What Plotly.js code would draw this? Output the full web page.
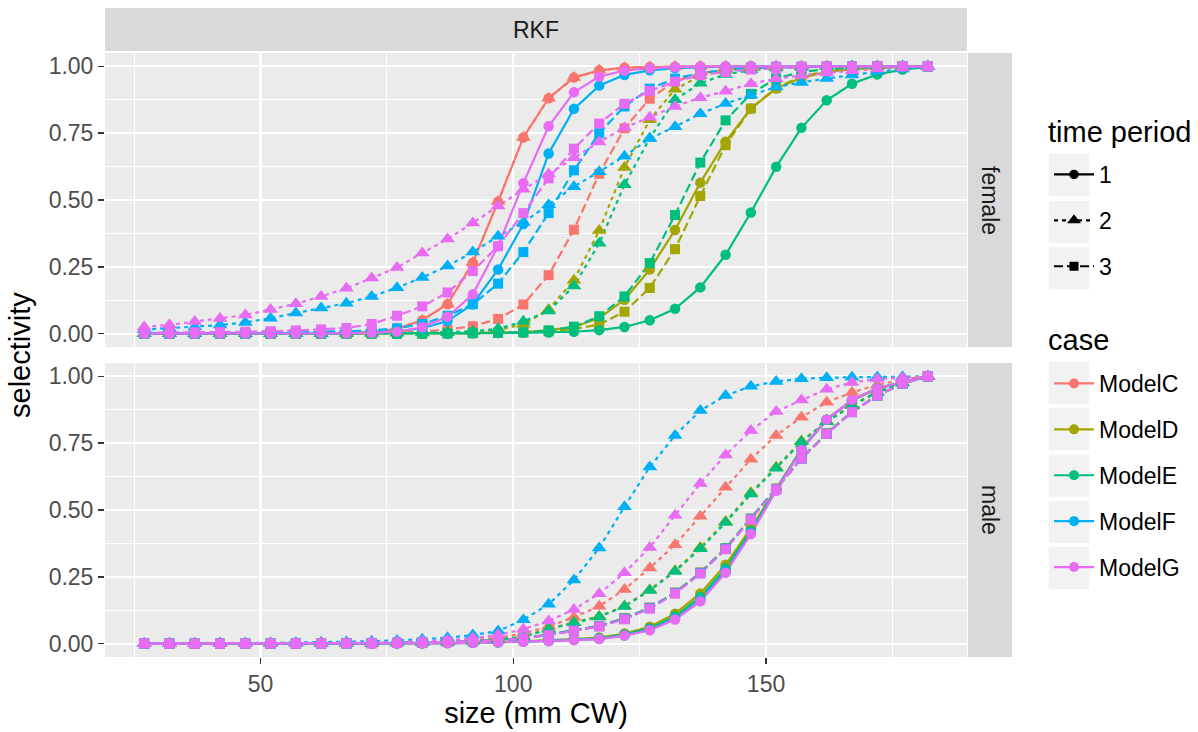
<!DOCTYPE html>
<html>
<head>
<meta charset="utf-8">
<script src="https://cdn.plot.ly/plotly-3.0.1.min.js"></script>
<style>html,body{margin:0;padding:0;background:#fff;}#chart{width:1198px;height:732px;}</style>
</head>
<body>
<div id="chart"></div>
<script>
// ---- data ----
const sizes = [27,32,37,42,47,52,57,62,67,72,77,82,87,92,97,102,107,112,117,122,127,132,137,142,147,152,157,162,167,172,177,182];
const cases = ["ModelC","ModelD","ModelE","ModelF","ModelG"];
const periods = ["1","2","3"];
const sexes = ["female","male"];
const facetLabel = "RKF";

// female
const female_C1 = [0,0,0,0,0,0,0,0.001,0.002,0.006,0.018,0.05,0.11,0.265,0.494,0.734,0.881,0.958,0.985,0.995,0.998,0.999,1,1,1,1,1,1,1,1,1,1];
const female_C2 = [0,0,0,0,0,0,0,0.001,0.002,0.006,0.018,0.05,0.11,0.265,0.494,0.734,0.881,0.958,0.985,0.995,0.998,0.999,1,1,1,1,1,1,1,1,1,1];
const female_C3 = [0,0,0,0,0,0,0,0.001,0.001,0.002,0.004,0.008,0.015,0.028,0.055,0.109,0.219,0.389,0.598,0.768,0.879,0.944,0.974,0.988,0.995,0.998,0.999,1,1,1,1,1];
const female_D1 = [0,0,0,0,0,0,0,0,0,0,0,0.001,0.001,0.002,0.004,0.006,0.012,0.025,0.058,0.127,0.24,0.388,0.565,0.718,0.842,0.917,0.957,0.979,0.99,0.995,0.998,1];
const female_D2 = [0,0,0,0,0,0,0,0,0,0.001,0.001,0.002,0.004,0.007,0.014,0.035,0.09,0.2,0.386,0.622,0.8,0.914,0.965,0.985,0.994,0.997,0.999,1,1,1,1,1];
const female_D3 = [0,0,0,0,0,0,0,0,0,0,0,0,0.001,0.002,0.003,0.005,0.009,0.017,0.034,0.082,0.171,0.316,0.515,0.705,0.842,0.92,0.962,0.982,0.992,0.997,0.999,1];
const female_E1 = [0,0,0,0,0,0,0,0,0,0,0,0,0,0.001,0.002,0.003,0.004,0.007,0.013,0.025,0.05,0.093,0.173,0.295,0.453,0.624,0.77,0.873,0.935,0.97,0.988,0.998];
const female_E2 = [0,0,0,0,0,0,0,0,0.001,0.001,0.002,0.003,0.005,0.009,0.018,0.046,0.085,0.178,0.338,0.557,0.731,0.875,0.937,0.97,0.986,0.994,0.997,0.999,1,1,1,1];
const female_E3 = [0,0,0,0,0,0,0,0,0,0,0,0,0.001,0.002,0.003,0.005,0.012,0.026,0.065,0.139,0.264,0.444,0.64,0.798,0.897,0.955,0.979,0.99,0.996,0.998,1,1];
const female_F1 = [0,0,0,0,0,0,0,0.001,0.002,0.004,0.009,0.02,0.047,0.11,0.24,0.41,0.674,0.841,0.928,0.968,0.985,0.993,0.997,0.999,1,1,1,1,1,1,1,1];
const female_F2 = [0.015,0.02,0.025,0.032,0.042,0.058,0.077,0.096,0.114,0.139,0.172,0.21,0.253,0.305,0.364,0.416,0.482,0.55,0.606,0.664,0.73,0.774,0.823,0.861,0.892,0.923,0.94,0.955,0.968,0.98,0.99,1];
const female_F3 = [0.001,0.001,0.001,0.002,0.002,0.003,0.004,0.006,0.008,0.012,0.02,0.036,0.067,0.11,0.187,0.305,0.451,0.611,0.75,0.85,0.917,0.954,0.975,0.987,0.993,0.996,0.998,0.999,1,1,1,1];
const female_G1 = [0,0,0,0,0,0,0,0.001,0.001,0.003,0.007,0.024,0.063,0.147,0.327,0.563,0.776,0.903,0.962,0.984,0.993,0.997,0.999,1,1,1,1,1,1,1,1,1];
const female_G2 = [0.025,0.033,0.045,0.057,0.07,0.09,0.112,0.139,0.17,0.208,0.247,0.302,0.354,0.414,0.478,0.54,0.597,0.658,0.717,0.77,0.81,0.85,0.883,0.907,0.935,0.954,0.966,0.976,0.984,0.99,0.995,1];
const female_G3 = [0.004,0.004,0.005,0.006,0.007,0.009,0.012,0.016,0.021,0.036,0.067,0.102,0.154,0.234,0.327,0.451,0.581,0.692,0.786,0.86,0.908,0.943,0.967,0.979,0.988,0.993,0.996,0.998,0.999,1,1,1];

// male
const male_C1 = [0,0,0,0,0,0,0,0,0,0,0.001,0.001,0.002,0.003,0.005,0.007,0.01,0.014,0.019,0.032,0.054,0.096,0.166,0.274,0.418,0.576,0.726,0.838,0.911,0.955,0.978,1];
const male_C2 = [0,0,0,0,0,0,0,0.001,0.001,0.002,0.003,0.005,0.008,0.013,0.022,0.038,0.064,0.099,0.14,0.203,0.283,0.37,0.477,0.585,0.69,0.779,0.847,0.903,0.94,0.968,0.988,1];
const male_C3 = [0,0,0,0,0,0,0,0,0.001,0.002,0.003,0.004,0.006,0.009,0.013,0.021,0.034,0.05,0.067,0.095,0.135,0.191,0.266,0.357,0.468,0.58,0.694,0.787,0.867,0.929,0.973,1];
const male_D1 = [0,0,0,0,0,0,0,0,0,0.001,0.001,0.002,0.003,0.004,0.006,0.009,0.012,0.017,0.023,0.038,0.063,0.112,0.188,0.295,0.432,0.58,0.728,0.838,0.91,0.955,0.978,1];
const male_D2 = [0,0,0,0,0,0,0,0,0.001,0.001,0.002,0.003,0.005,0.01,0.016,0.026,0.056,0.08,0.102,0.141,0.202,0.273,0.36,0.457,0.565,0.66,0.758,0.832,0.893,0.942,0.976,1];
const male_D3 = [0,0,0,0,0,0,0,0,0.001,0.002,0.003,0.004,0.006,0.009,0.013,0.021,0.033,0.049,0.066,0.094,0.134,0.19,0.265,0.356,0.467,0.579,0.693,0.786,0.867,0.929,0.973,1];
const male_E1 = [0,0,0,0,0,0,0,0,0,0,0.001,0.001,0.002,0.003,0.005,0.008,0.011,0.015,0.02,0.034,0.057,0.102,0.175,0.282,0.422,0.577,0.726,0.838,0.911,0.955,0.978,1];
const male_E2 = [0,0,0,0,0,0,0,0,0.001,0.001,0.002,0.003,0.005,0.009,0.015,0.025,0.054,0.078,0.1,0.139,0.199,0.27,0.355,0.453,0.56,0.656,0.755,0.83,0.89,0.94,0.975,1];
const male_E3 = [0,0,0,0,0,0,0,0,0.001,0.002,0.003,0.004,0.006,0.009,0.013,0.021,0.033,0.049,0.066,0.094,0.134,0.19,0.265,0.356,0.467,0.579,0.693,0.786,0.867,0.929,0.973,1];
const male_F1 = [0,0,0,0,0,0,0,0,0,0,0.001,0.001,0.002,0.003,0.005,0.007,0.01,0.014,0.018,0.031,0.052,0.093,0.162,0.27,0.414,0.574,0.725,0.838,0.911,0.955,0.978,1];
const male_F2 = [0.001,0.001,0.001,0.002,0.002,0.003,0.004,0.005,0.007,0.009,0.012,0.016,0.022,0.032,0.047,0.089,0.147,0.238,0.358,0.512,0.661,0.779,0.872,0.928,0.963,0.981,0.991,0.995,0.997,0.998,0.999,1];
const male_F3 = [0,0,0,0,0,0,0,0,0.001,0.002,0.003,0.004,0.006,0.009,0.013,0.021,0.033,0.049,0.065,0.093,0.133,0.189,0.264,0.355,0.466,0.578,0.692,0.785,0.866,0.928,0.973,1];
const male_G1 = [0,0,0,0,0,0,0,0,0,0,0.001,0.001,0.002,0.003,0.005,0.007,0.01,0.013,0.017,0.03,0.05,0.09,0.158,0.265,0.41,0.572,0.724,0.838,0.912,0.955,0.978,1];
const male_G2 = [0,0,0,0,0,0.001,0.001,0.002,0.003,0.004,0.006,0.009,0.013,0.02,0.033,0.054,0.085,0.128,0.187,0.265,0.36,0.48,0.599,0.706,0.797,0.869,0.912,0.952,0.977,0.99,0.995,1];
const male_G3 = [0,0,0,0,0,0,0,0,0.001,0.001,0.002,0.004,0.006,0.009,0.012,0.02,0.032,0.048,0.064,0.091,0.131,0.187,0.262,0.353,0.464,0.577,0.692,0.785,0.866,0.928,0.973,1];

const series = {
  female: {ModelC:[female_C1,female_C2,female_C3], ModelD:[female_D1,female_D2,female_D3], ModelE:[female_E1,female_E2,female_E3], ModelF:[female_F1,female_F2,female_F3], ModelG:[female_G1,female_G2,female_G3]},
  male: {ModelC:[male_C1,male_C2,male_C3], ModelD:[male_D1,male_D2,male_D3], ModelE:[male_E1,male_E2,male_E3], ModelF:[male_F1,male_F2,male_F3], ModelG:[male_G1,male_G2,male_G3]}
};

// ---- styles ----
const colors = {ModelC:"#F8766D", ModelD:"#A3A500", ModelE:"#00BF7D", ModelF:"#00B0F6", ModelG:"#E76BF3"};
const dashes = ["solid", "4px,4px", "9px,4px"];
const symbols = ["circle", "triangle-up", "square"];
const msizes = [10.5, 13, 10];
const FONT = "Liberation Sans, Arial, Helvetica, sans-serif";

const traces = [];
const axisOf = {female: "y2", male: "y"};
sexes.forEach(sex => {
  cases.forEach(c => {
    periods.forEach((p, i) => {
      traces.push({type:"scatter", mode:"lines", x:sizes, y:series[sex][c][i], xaxis:"x", yaxis:axisOf[sex],
        line:{color:colors[c], width:2.2, dash:dashes[i]}, showlegend:false, hoverinfo:"skip"});
    });
  });
});
sexes.forEach(sex => {
  cases.forEach(c => {
    periods.forEach((p, i) => {
      traces.push({type:"scatter", mode:"markers", x:sizes, y:series[sex][c][i], xaxis:"x", yaxis:axisOf[sex],
        marker:{color:colors[c], size:msizes[i], symbol:symbols[i], line:{width:0}}, showlegend:false,
        name: sex + " " + c + " " + p});
    });
  });
});
periods.forEach((p, i) => {
  traces.push({type:"scatter", mode:"lines+markers", x:[null], y:[null], name:p, legend:"legend", legendgroup:"p"+p,
    line:{color:"#000000", width:2.2, dash:dashes[i]}, marker:{color:"#000000", size:msizes[i]-1, symbol:symbols[i]}, showlegend:true});
});
cases.forEach(c => {
  traces.push({type:"scatter", mode:"lines+markers", x:[null], y:[null], name:c, legend:"legend2", legendgroup:c,
    line:{color:colors[c], width:2.2}, marker:{color:colors[c], size:10, symbol:"circle"}, showlegend:true});
});

// ---- layout geometry (pixels -> paper) ----
const W = 1198, H = 732, L = 105, R = 231, T = 53, B = 75;
const pw = W - L - R, ph = H - T - B;
const px = v => (v - L) / pw;
const py = v => (H - B - v) / ph;

const axisCommon = {
  showgrid:true, gridcolor:"#FFFFFF", gridwidth:2.2, zeroline:false, showline:false,
  ticks:"outside", ticklen:6, tickwidth:1.4, tickcolor:"#333333",
  tickfont:{family:FONT, size:23, color:"#4D4D4D"}
};
const yCommon = Object.assign({}, axisCommon, {
  range:[-0.05, 1.05], tickvals:[0,0.25,0.5,0.75,1], tickformat:".2f",
  minor:{tickvals:[0.125,0.375,0.625,0.875], showgrid:true, gridcolor:"#FFFFFF", gridwidth:1.1, ticks:""}
});

const shapes = [];
shapes.push({type:"rect", xref:"paper", yref:"paper", x0:0, x1:1, y0:py(51), y1:py(8), fillcolor:"#D9D9D9", line:{width:0}, layer:"below"});
shapes.push({type:"rect", xref:"paper", yref:"paper", x0:px(968), x1:px(1012), y0:py(347), y1:1, fillcolor:"#D9D9D9", line:{width:0}, layer:"below"});
shapes.push({type:"rect", xref:"paper", yref:"paper", x0:px(968), x1:px(1012), y0:0, y1:py(363), fillcolor:"#D9D9D9", line:{width:0}, layer:"below"});
[175, 222, 268, 383, 429, 476, 522, 568].forEach(c => {
  shapes.push({type:"rect", xref:"paper", yref:"paper", x0:px(1048), x1:px(1090), y0:py(c+22), y1:py(c-22), fillcolor:"#F2F2F2", line:{color:"#FFFFFF", width:1.5}, layer:"below"});
});

const stripFont = {family:FONT, size:23, color:"#1A1A1A"};
const annotations = [
  {text:facetLabel, xref:"paper", yref:"paper", x:0.5, y:py(30), xanchor:"center", yanchor:"middle", showarrow:false, font:stripFont},
  {text:sexes[0], xref:"paper", yref:"paper", x:px(990), y:py(200), xanchor:"center", yanchor:"middle", textangle:90, showarrow:false, font:stripFont},
  {text:sexes[1], xref:"paper", yref:"paper", x:px(990), y:py(510), xanchor:"center", yanchor:"middle", textangle:90, showarrow:false, font:stripFont},
  {text:"selectivity", xref:"paper", yref:"paper", x:px(20), y:py(355), xanchor:"center", yanchor:"middle", textangle:-90, showarrow:false, font:{family:FONT, size:29, color:"#000000"}},
  {text:"time period", xref:"paper", yref:"paper", x:px(1046), y:py(132), xanchor:"left", yanchor:"middle", showarrow:false, font:{family:FONT, size:29, color:"#000000"}},
  {text:"case", xref:"paper", yref:"paper", x:px(1046), y:py(340), xanchor:"left", yanchor:"middle", showarrow:false, font:{family:FONT, size:29, color:"#000000"}}
];

const layout = {
  width:W, height:H, margin:{l:L, r:R, t:T, b:B, pad:0},
  paper_bgcolor:"#FFFFFF", plot_bgcolor:"#EBEBEB",
  font:{family:FONT, color:"#000000"},
  xaxis: Object.assign({}, axisCommon, {
    range:[19.25, 189.75], tickvals:[50,100,150], anchor:"y",
    minor:{tickvals:[25,75,125,175], showgrid:true, gridcolor:"#FFFFFF", gridwidth:1.1, ticks:""},
    title:{text:"size (mm CW)", font:{family:FONT, size:29, color:"#000000"}, standoff:6}
  }),
  yaxis: Object.assign({}, yCommon, {domain:[0, py(363)], anchor:"x"}),
  yaxis2: Object.assign({}, yCommon, {domain:[py(347), 1], anchor:"x"}),
  legend: {x:px(1049), y:py(153), xanchor:"left", yanchor:"top",
    font:{family:FONT, size:23, color:"#000000"}, bgcolor:"rgba(0,0,0,0)", tracegroupgap:13, itemwidth:40},
  legend2: {x:px(1049), y:py(362), xanchor:"left", yanchor:"top",
    font:{family:FONT, size:23, color:"#000000"}, bgcolor:"rgba(0,0,0,0)", tracegroupgap:13, itemwidth:40},
  shapes: shapes,
  annotations: annotations,
  showlegend:true
};

Plotly.newPlot("chart", traces, layout, {displayModeBar:false, staticPlot:true});
</script>
</body>
</html>
